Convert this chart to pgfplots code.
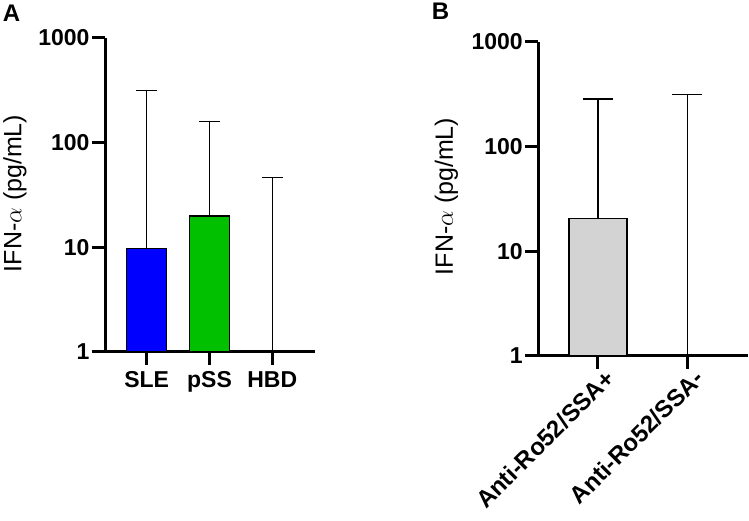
\documentclass[border=0pt]{standalone}
\usepackage{pgfplots}
\pgfplotsset{compat=1.18}
\usepackage{fontspec}
\setmainfont{Liberation Sans}
\definecolor{barblue}{RGB}{0,0,255}
\definecolor{bargreen}{RGB}{0,192,0}
\definecolor{bargray}{RGB}{211,211,211}
\begin{document}
\begin{tikzpicture}[x=1pt,y=1pt]
% Panel A
\begin{axis}[
  scale only axis,
  ymode=log, ymin=1, ymax=1000,
  axis x line*=bottom, axis y line*=left,
  axis line style={line width=3pt, -},
  major tick style={line width=3pt, black},
  tick align=outside, major tick length=13pt,
  ytick={1,10,100,1000},
  yticklabels={\textbf{1},\textbf{10},\textbf{100},\textbf{1000}},
  yminorticks=false,
  ticklabel style={font=\fontsize{23}{25}\selectfont\bfseries},
  yticklabel style={xshift=1pt},
  clip=false,
  at={(105pt,169pt)}, anchor=south west,
  width=210pt, height=314pt,
  xmin=-0.664, xmax=2.68,
  xtick={0,1,2}, xticklabels={\textbf{SLE},\textbf{pSS},\textbf{HBD}},
  xticklabel style={yshift=-3pt},
]
\addplot[ybar, bar width=40pt, bar shift=0pt, fill=barblue, draw=black, line width=1.4pt,
  error bars/y dir=plus, error bars/y explicit,
  error bars/error bar style={line width=1.4pt, black, solid},
  error bars/error mark options={rotate=90, line width=1.4pt, black, mark size=10.8pt}]
  coordinates {(0,9.7) +- (0,304)};
\addplot[ybar, bar width=40pt, bar shift=0pt, fill=bargreen, draw=black, line width=1.4pt,
  error bars/y dir=plus, error bars/y explicit,
  error bars/error bar style={line width=1.4pt, black, solid},
  error bars/error mark options={rotate=90, line width=1.4pt, black, mark size=10.5pt}]
  coordinates {(1,19.9) +- (0,140)};
\addplot[black, mark=none, line width=1.4pt,
  error bars/y dir=plus, error bars/y explicit,
  error bars/error bar style={line width=1.4pt, black, solid},
  error bars/error mark options={rotate=90, line width=1.4pt, black, mark size=10.5pt}]
  coordinates {(2,1) +- (0,45.2)};
\end{axis}
% Panel B
\begin{axis}[
  scale only axis,
  ymode=log, ymin=1, ymax=1000,
  axis x line*=bottom, axis y line*=left,
  axis line style={line width=3pt, -},
  major tick style={line width=3pt, black},
  tick align=outside, major tick length=13pt,
  ytick={1,10,100,1000},
  yticklabels={\textbf{1},\textbf{10},\textbf{100},\textbf{1000}},
  yminorticks=false,
  ticklabel style={font=\fontsize{23}{25}\selectfont\bfseries},
  yticklabel style={xshift=1pt},
  clip=false,
  at={(538.3pt,165pt)}, anchor=south west,
  width=209.7pt, height=314.3pt,
  xmin=-0.668, xmax=1.68,
  xtick={0,1}, xticklabels={\textbf{Anti-Ro52/SSA+},\textbf{Anti-Ro52/SSA-}},
  xticklabel style={font=\fontsize{24}{26}\selectfont\bfseries, rotate=45, anchor=north east, inner sep=1pt, xshift=6pt, yshift=-2pt},
]
\addplot[ybar, bar width=57.7pt, bar shift=0pt, fill=bargray, draw=black, line width=1.4pt,
  error bars/y dir=plus, error bars/y explicit,
  error bars/error bar style={line width=1.4pt, black, solid},
  error bars/error mark options={rotate=90, line width=1.4pt, black, mark size=15pt}]
  coordinates {(0,20.6) +- (0,262.4)};
\addplot[black, mark=none, line width=1.4pt,
  error bars/y dir=plus, error bars/y explicit,
  error bars/error bar style={line width=1.4pt, black, solid},
  error bars/error mark options={rotate=90, line width=1.4pt, black, mark size=15pt}]
  coordinates {(1,1) +- (0,313)};
\end{axis}
% labels
\node[rotate=90, font=\fontsize{25}{28}\selectfont] at (15,327.5) {IFN-$\alpha$ (pg/mL)};
\node[rotate=90, font=\fontsize{25}{28}\selectfont] at (446.5,324.5) {IFN-$\alpha$ (pg/mL)};
\node[font=\fontsize{24}{26}\selectfont\bfseries] at (11.5,507.5) {A};
\node[font=\fontsize{24}{26}\selectfont\bfseries] at (440.5,509.5) {B};
\pgfresetboundingbox
\useasboundingbox (0,0) rectangle (749,521);
\end{tikzpicture}
\end{document}
